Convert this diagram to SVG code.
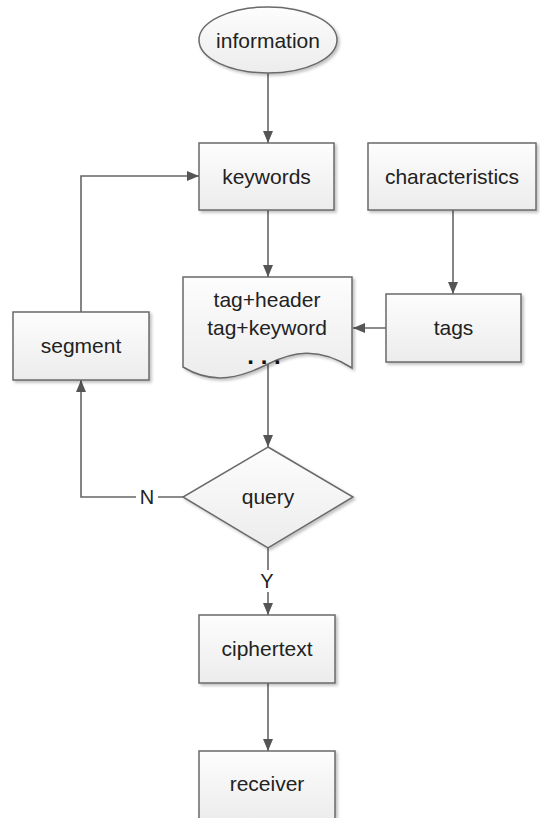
<svg xmlns="http://www.w3.org/2000/svg" width="540" height="818" viewBox="0 0 540 818">
  <defs>
    <linearGradient id="fillGrad" x1="0" y1="0" x2="0" y2="1">
      <stop offset="0" stop-color="#fdfdfd"/>
      <stop offset="1" stop-color="#ececec"/>
    </linearGradient>
    <filter id="shadow" x="-10%" y="-10%" width="130%" height="130%">
      <feGaussianBlur in="SourceAlpha" stdDeviation="1.5"/>
      <feOffset dx="2" dy="2" result="b"/>
      <feComponentTransfer><feFuncA type="linear" slope="0.25"/></feComponentTransfer>
      <feMerge><feMergeNode/><feMergeNode in="SourceGraphic"/></feMerge>
    </filter>
    <marker id="arrow" viewBox="0 0 12 10" refX="12" refY="5" markerWidth="12" markerHeight="10" markerUnits="userSpaceOnUse" orient="auto">
      <path d="M0,0 L12,5 L0,10 Z" fill="#555"/>
    </marker>
  </defs>
  <style>
    .shape { fill: url(#fillGrad); stroke: #6a6a6a; stroke-width: 1.5; filter: url(#shadow); }
    .label { font-family: "Liberation Sans", Arial, sans-serif; font-size: 21px; fill: #222; text-anchor: middle; }
    .dots { font-family: "Liberation Sans", Arial, sans-serif; font-size: 24px; font-weight: bold; fill: #111; text-anchor: middle; }
    .edge { fill: none; stroke: #666; stroke-width: 1.6; }
    .edge-label { font-family: "Liberation Sans", Arial, sans-serif; font-size: 20px; fill: #222; text-anchor: middle; }
  </style>

  <rect x="0" y="0" width="540" height="818" fill="#ffffff"/>

  <!-- connectors -->
  <g id="connectors">
    <line class="edge" x1="268" y1="73" x2="268" y2="143" marker-end="url(#arrow)"/>
    <line class="edge" x1="268" y1="210" x2="268" y2="277" marker-end="url(#arrow)"/>
    <line class="edge" x1="453" y1="210" x2="453" y2="294" marker-end="url(#arrow)"/>
    <line class="edge" x1="386" y1="328" x2="353" y2="328" marker-end="url(#arrow)"/>
    <line class="edge" x1="268" y1="364" x2="268" y2="447" marker-end="url(#arrow)"/>
    <polyline class="edge" points="183,497 81,497 81,380" marker-end="url(#arrow)"/>
    <polyline class="edge" points="81,312 81,176 199,176" marker-end="url(#arrow)"/>
    <line class="edge" x1="268" y1="548" x2="268" y2="615" marker-end="url(#arrow)"/>
    <line class="edge" x1="268" y1="683" x2="268" y2="751" marker-end="url(#arrow)"/>
    <rect x="136" y="486" width="22" height="22" fill="#ffffff"/>
    <text class="edge-label" x="147" y="504">N</text>
    <rect x="257" y="570" width="22" height="22" fill="#ffffff"/>
    <text class="edge-label" x="267" y="588">Y</text>
  </g>

  <g id="information">
    <ellipse class="shape" cx="268" cy="40" rx="69" ry="33"/>
    <text class="label" x="268" y="48">information</text>
  </g>

  <g id="keywords">
    <rect class="shape" x="199" y="143" width="135" height="67"/>
    <text class="label" x="266.5" y="184">keywords</text>
  </g>

  <g id="characteristics">
    <rect class="shape" x="368" y="143" width="168" height="67"/>
    <text class="label" x="452" y="184">characteristics</text>
  </g>

  <g id="tags">
    <rect class="shape" x="386" y="294" width="135" height="68"/>
    <text class="label" x="453.5" y="335">tags</text>
  </g>

  <g id="document">
    <path class="shape" d="M183,277 H352 V368 C318,346 292,352 268,364 C242,377 214,386 183,367 Z"/>
    <text class="label" x="267" y="307">tag+header</text>
    <text class="label" x="267" y="335">tag+keyword</text>
    <text class="dots" x="264" y="364">. . .</text>
  </g>

  <g id="segment">
    <rect class="shape" x="13" y="312" width="136" height="68"/>
    <text class="label" x="81" y="353">segment</text>
  </g>

  <g id="query">
    <polygon class="shape" points="268,447 353,497 268,548 183,497"/>
    <text class="label" x="268" y="504">query</text>
  </g>

  <g id="ciphertext">
    <rect class="shape" x="199" y="615" width="136" height="68"/>
    <text class="label" x="267" y="656">ciphertext</text>
  </g>

  <g id="receiver">
    <rect class="shape" x="199" y="751" width="136" height="70"/>
    <text class="label" x="267" y="791">receiver</text>
  </g>
</svg>
